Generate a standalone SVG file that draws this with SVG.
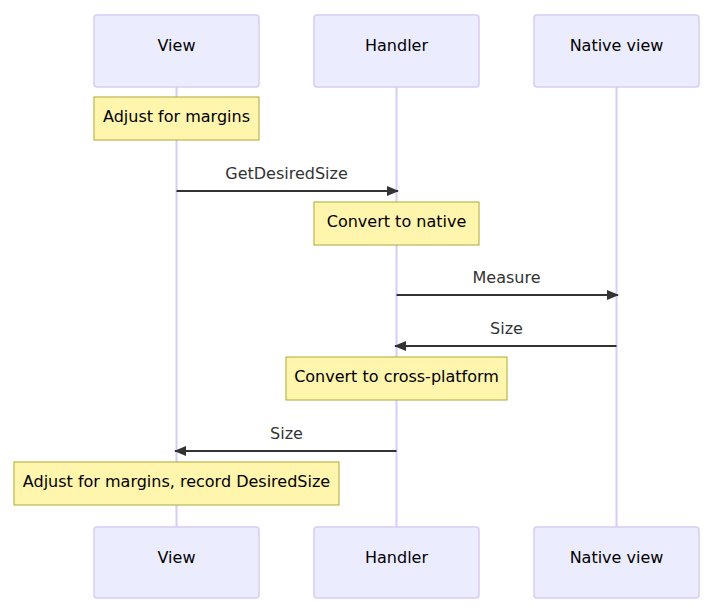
<svg xmlns="http://www.w3.org/2000/svg" width="728" height="613" viewBox="0 0 728 613">
<defs>
<marker id="arrow" viewBox="0 0 12 10" refX="11" refY="5" markerWidth="12" markerHeight="10" markerUnits="userSpaceOnUse" orient="auto">
<path d="M0,0 L12,5 L0,10 Z" fill="#333"/>
</marker>
<style>
text{font-family:"DejaVu Sans","Liberation Sans",sans-serif;font-size:16px;text-anchor:middle;dominant-baseline:central}
.actor{fill:#ECECFF;stroke:#D7CCF5;stroke-width:1.5}
.life{stroke:#D7CCF5;stroke-width:2}
.note{fill:#FFF5AD;stroke:#AAAA33;stroke-width:1}
.msg{stroke:#333;stroke-width:2;fill:none}
.mt{fill:#333}
.at{fill:#000}
</style>
</defs>
<rect width="728" height="613" fill="#fff"/>
<g id="lifelines">
<line class="life" x1="176.5" y1="87" x2="176.5" y2="527"/>
<line class="life" x1="396.5" y1="87" x2="396.5" y2="527"/>
<line class="life" x1="616.5" y1="87" x2="616.5" y2="527"/>
</g>
<g id="actor-view-top"><rect class="actor" x="94" y="15" width="165" height="72" rx="3"/><text class="at" x="176.5" y="45">View</text></g>
<g id="actor-handler-top"><rect class="actor" x="314" y="15" width="165" height="72" rx="3"/><text class="at" x="396.5" y="45">Handler</text></g>
<g id="actor-native-top"><rect class="actor" x="534" y="15" width="165" height="72" rx="3"/><text class="at" x="616.5" y="45">Native view</text></g>
<g id="actor-view-bottom"><rect class="actor" x="94" y="527" width="165" height="71" rx="3"/><text class="at" x="176.5" y="557">View</text></g>
<g id="actor-handler-bottom"><rect class="actor" x="314" y="527" width="165" height="71" rx="3"/><text class="at" x="396.5" y="557">Handler</text></g>
<g id="actor-native-bottom"><rect class="actor" x="534" y="527" width="165" height="71" rx="3"/><text class="at" x="616.5" y="557">Native view</text></g>
<g id="note1"><rect class="note" x="94" y="97" width="165" height="43"/><text class="at" x="176.5" y="116">Adjust for margins</text></g>
<g id="note2"><rect class="note" x="314" y="202" width="165" height="43"/><text class="at" x="396.5" y="221">Convert to native</text></g>
<g id="note3"><rect class="note" x="286" y="357" width="221" height="43"/><text class="at" x="396.5" y="376">Convert to cross-platform</text></g>
<g id="note4"><rect class="note" x="14" y="462" width="325" height="43"/><text class="at" x="176.5" y="481">Adjust for margins, record DesiredSize</text></g>
<g id="connectors">
<line class="msg" x1="176.5" y1="191" x2="398" y2="191" marker-end="url(#arrow)"/>
<text class="mt" x="286.5" y="173">GetDesiredSize</text>
<line class="msg" x1="396.5" y1="295" x2="618" y2="295" marker-end="url(#arrow)"/>
<text class="mt" x="506.5" y="277">Measure</text>
<line class="msg" x1="616.5" y1="346" x2="395" y2="346" marker-end="url(#arrow)"/>
<text class="mt" x="506.5" y="328">Size</text>
<line class="msg" x1="396.5" y1="451" x2="175" y2="451" marker-end="url(#arrow)"/>
<text class="mt" x="286.5" y="433">Size</text>
</g>
</svg>
